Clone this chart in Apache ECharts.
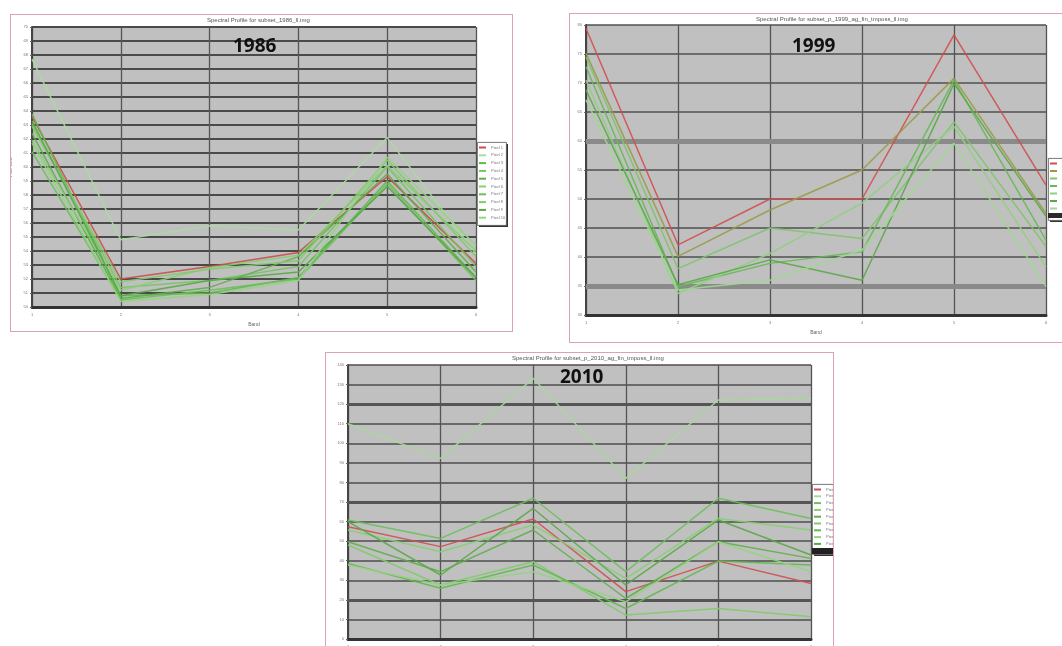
<!DOCTYPE html>
<html>
<head>
<meta charset="utf-8">
<script src="https://cdn.jsdelivr.net/npm/echarts@6/dist/echarts.min.js"></script>
<style>
  html, body { margin: 0; padding: 0; background: #fff; width: 1062px; height: 646px; overflow: hidden; position: relative; }
  .panel { position: absolute; background: #fff; border: 1.5px solid #d9a3b3; box-sizing: border-box; }
  #p1986 { left: 10px; top: 14px; width: 503px; height: 318px; }
  #p1999 { left: 569px; top: 13px; width: 520px; height: 330px; }
  #p2010 { left: 325px; top: 352px; width: 509px; height: 320px; }
</style>
</head>
<body>
<div id="p1986" class="panel"></div>
<div id="p1999" class="panel"></div>
<div id="p2010" class="panel"></div>
<script>
// Band numbers on the x axis (shared by all three profiles)
const bands = ['1', '2', '3', '4', '5', '6'];

// Y axis ranges: [min, max, interval]
const yAxis1986 = [50, 70, 1];
const yAxis1999 = [30, 80, 5];
const yAxis2010 = [0, 140, 10];

// 1986 pixel profiles
const p1986_1 = [63.6, 52.0, 52.9, 53.9, 59.3, 53.1];
const p1986_2 = [67.7, 54.8, 55.8, 55.5, 62.1, 53.8];
const p1986_3 = [63.8, 50.8, 51.0, 52.1, 59.0, 52.1];
const p1986_4 = [63.1, 51.4, 51.9, 52.9, 60.0, 52.9];
const p1986_5 = [62.4, 50.6, 51.4, 53.6, 59.5, 52.5];
const p1986_6 = [61.9, 51.2, 52.8, 53.7, 60.1, 54.0];
const p1986_7 = [61.1, 50.5, 51.2, 52.0, 58.8, 51.9];
const p1986_8 = [62.9, 51.8, 52.7, 53.3, 60.5, 53.6];
const p1986_9 = [63.3, 50.8, 51.9, 52.5, 58.6, 52.1];
const p1986_10 = [61.7, 50.4, 50.9, 51.9, 60.7, 54.4];

// 1999 pixel profiles
const p1999_1 = [79.4, 42.1, 50.0, 50.0, 78.3, 52.4];
const p1999_2 = [75.1, 40.1, 48.1, 55.0, 70.8, 47.5];
const p1999_3 = [74.5, 38.0, 45.0, 43.2, 63.3, 41.8];
const p1999_4 = [72.8, 34.9, 38.9, 40.9, 70.5, 42.9];
const p1999_5 = [70.5, 33.7, 40.6, 49.3, 62.5, 38.3];
const p1999_6 = [68.8, 35.2, 39.5, 36.0, 69.9, 47.0];
const p1999_7 = [67.1, 34.3, 36.0, 41.2, 59.6, 34.9];

// 2010 pixel profiles
const p2010_1 = [57.4, 47.2, 61.3, 24.2, 39.8, 28.4];
const p2010_2 = [110.0, 92.3, 133.2, 82.1, 122.1, 123.0];
const p2010_3 = [60.8, 51.4, 71.9, 34.4, 71.9, 61.6];
const p2010_4 = [55.7, 44.6, 58.2, 31.0, 61.6, 55.7];
const p2010_5 = [49.7, 34.4, 55.7, 20.7, 49.7, 41.2];
const p2010_6 = [48.0, 27.6, 39.5, 12.2, 15.6, 11.4];
const p2010_7 = [38.6, 25.9, 37.8, 15.6, 39.8, 37.8];
const p2010_8 = [37.8, 27.6, 34.4, 19.0, 49.7, 34.4];
const p2010_9 = [60.0, 32.7, 66.7, 27.6, 60.8, 42.9];

// Emphasised grid rows
const heavyRows1999 = [60, 35];
const heavyRows2010 = [120, 70, 20];

const titles = {
  p1986: 'Spectral Profile for subset_1986_ll.img',
  p1999: 'Spectral Profile for subset_p_1999_ag_fin_tmposs_ll.img',
  p2010: 'Spectral Profile for subset_p_2010_ag_fin_tmposs_ll.img'
};

function buildOption(cfg) {
  const names = cfg.lines.map((_, i) => 'Pixel ' + (i + 1));
  const series = cfg.lines.map((vals, i) => ({
    name: names[i],
    type: 'line',
    data: vals,
    symbol: 'none',
    smooth: false,
    z: 3,
    lineStyle: { color: cfg.colors[i], width: 1.5, opacity: 0.9 },
    itemStyle: { color: cfg.colors[i] }
  }));
  if (cfg.heavy && cfg.heavy.length) {
    series[0].markLine = {
      silent: true,
      symbol: 'none',
      label: { show: false },
      z: 1,
      lineStyle: { color: cfg.heavyColor, width: cfg.heavyWidth, type: 'solid' },
      data: cfg.heavy.map(v => ({ yAxis: v }))
    };
  }
  const lp = cfg.legendBox;
  const graphic = [
    // drop shadow and frame of the legend box
    { type: 'rect', left: lp.x + 2, top: lp.y + 2, z: 1, silent: true,
      shape: { width: lp.w, height: lp.h }, style: { fill: '#333' } },
    { type: 'rect', left: lp.x, top: lp.y, z: 2, silent: true,
      shape: { width: lp.w, height: lp.h }, style: { fill: '#fff', stroke: '#555', lineWidth: 0.8 } }
  ].concat(cfg.graphic);
  return {
    animation: false,
    title: {
      text: cfg.title,
      left: cfg.titleLeft,
      top: 2,
      padding: 0,
      textStyle: { fontSize: 6, fontWeight: 'normal', color: '#555', fontFamily: 'Liberation Sans' }
    },
    grid: Object.assign({ show: true, backgroundColor: '#c0c0c0', borderWidth: 0, outerBoundsMode: 'none', containLabel: false }, cfg.grid),
    legend: {
      orient: 'vertical',
      data: names,
      left: lp.x + 2,
      top: lp.y + 3,
      padding: 0,
      z: 5,
      itemWidth: 7,
      itemHeight: 2,
      itemGap: cfg.legendGap,
      icon: 'rect',
      textStyle: { fontSize: 4, color: '#777', fontFamily: 'Liberation Sans', lineHeight: 5 }
    },
    xAxis: {
      type: 'category',
      data: bands,
      boundaryGap: false,
      name: 'Band',
      nameLocation: 'middle',
      nameGap: 13,
      nameTextStyle: { fontSize: 5, color: '#666' },
      axisLine: { lineStyle: { color: '#333', width: 3 } },
      axisTick: { show: false },
      axisLabel: { fontSize: 4, color: '#777', margin: 6 },
      splitLine: { show: true, lineStyle: { color: '#555', width: 1.3 } }
    },
    yAxis: {
      type: 'value',
      min: cfg.yr[0],
      max: cfg.yr[1],
      interval: cfg.yr[2],
      name: 'Pixel Value',
      nameLocation: 'middle',
      nameRotate: 90,
      nameGap: 15,
      nameTextStyle: { fontSize: 4, color: '#777' },
      axisLine: { show: true, lineStyle: { color: '#444', width: 2 } },
      axisTick: { show: true, length: 2, lineStyle: { color: '#666' } },
      axisLabel: { fontSize: 4, color: '#777', margin: 4 },
      splitLine: { show: true, lineStyle: { color: cfg.gridColor, width: cfg.gridWidth } }
    },
    graphic: graphic,
    series: series
  };
}

const green = ['#a9dc9c', '#62b84f', '#74c563', '#5fae4a', '#86cf72', '#6cbf5a', '#7fcb6b', '#58a845', '#92d47f'];

const charts = [
  {
    id: 'p1986',
    lines: [p1986_1, p1986_2, p1986_3, p1986_4, p1986_5, p1986_6, p1986_7, p1986_8, p1986_9, p1986_10],
    colors: ['#cc4b4b'].concat(green),
    yr: yAxis1986,
    grid: { left: 21, top: 12, width: 444, height: 280 },
    gridColor: '#4a4a4a', gridWidth: 1.8,
    titleLeft: 196,
    legendBox: { x: 466, y: 127, w: 29, h: 83 },
    legendGap: 2.8,
    graphic: [
      { type: 'text', left: 222, top: 22, z: 10,
        style: { text: '1986', fontSize: 19, fontWeight: 'bold', fill: '#111', fontFamily: 'Open Sans' } }
    ]
  },
  {
    id: 'p1999',
    lines: [p1999_1, p1999_2, p1999_3, p1999_4, p1999_5, p1999_6, p1999_7],
    colors: ['#d24e4e', '#9a9a48', '#7cc56a', '#66b955', '#8fd07e', '#5aa948', '#9fd890'],
    yr: yAxis1999,
    grid: { left: 16, top: 11, width: 460, height: 290 },
    gridColor: '#505050', gridWidth: 1.5,
    heavy: heavyRows1999, heavyColor: '#8a8a8a', heavyWidth: 5,
    titleLeft: 186,
    legendBox: { x: 478, y: 144, w: 30, h: 62 },
    legendGap: 2.5,
    graphic: [
      { type: 'text', left: 222, top: 23, z: 10,
        style: { text: '1999', fontSize: 19, fontWeight: 'bold', fill: '#111', fontFamily: 'Open Sans' } },
      { type: 'rect', left: 478, top: 199, z: 10, shape: { width: 30, height: 5 }, style: { fill: '#2a2a2a' } }
    ]
  },
  {
    id: 'p2010',
    lines: [p2010_1, p2010_2, p2010_3, p2010_4, p2010_5, p2010_6, p2010_7, p2010_8, p2010_9],
    colors: ['#d24e4e', '#a7d89a', '#6cbf5a', '#86cf72', '#5fae4a', '#7fcb6b', '#62b84f', '#92d47f', '#58a845'],
    yr: yAxis2010,
    grid: { left: 22, top: 12, width: 463, height: 274 },
    gridColor: '#4e4e4e', gridWidth: 1.5,
    heavy: heavyRows2010, heavyColor: '#555', heavyWidth: 3,
    titleLeft: 186,
    legendBox: { x: 486, y: 131, w: 21, h: 70 },
    legendGap: 1.8,
    graphic: [
      { type: 'text', left: 234, top: 15, z: 10,
        style: { text: '2010', fontSize: 19, fontWeight: 'bold', fill: '#111', fontFamily: 'Open Sans' } },
      { type: 'rect', left: 486, top: 195, z: 10, shape: { width: 21, height: 6 }, style: { fill: '#222' } }
    ]
  }
];

charts.forEach(cfg => {
  cfg.title = titles[cfg.id];
  const el = document.getElementById(cfg.id);
  const chart = echarts.init(el, null, { renderer: 'canvas' });
  chart.setOption(buildOption(cfg));
});
</script>
</body>
</html>
